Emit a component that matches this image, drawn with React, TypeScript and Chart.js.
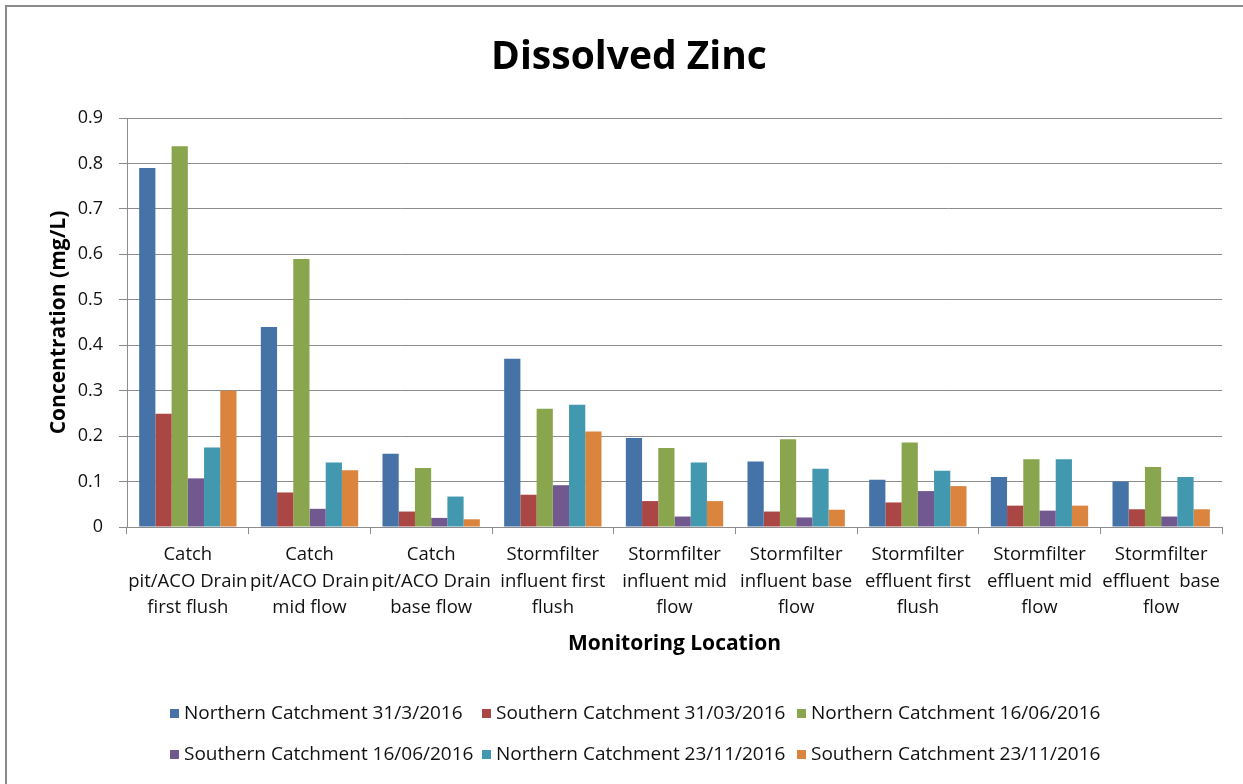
import React, { useEffect, useRef } from "react";
import { Chart, registerables } from "chart.js";

Chart.register(...registerables);

const categories: string[][] = [
  ["Catch", "pit/ACO Drain", "first flush"],
  ["Catch", "pit/ACO Drain", "mid flow"],
  ["Catch", "pit/ACO Drain", "base flow"],
  ["Stormfilter", "influent first", "flush"],
  ["Stormfilter", "influent mid", "flow"],
  ["Stormfilter", "influent base", "flow"],
  ["Stormfilter", "effluent first", "flush"],
  ["Stormfilter", "effluent mid", "flow"],
  ["Stormfilter", "effluent  base", "flow"],
];

const northern31Mar = [0.79, 0.44, 0.161, 0.37, 0.196, 0.144, 0.104, 0.11, 0.1];
const southern31Mar = [0.249, 0.076, 0.034, 0.071, 0.057, 0.034, 0.054, 0.047, 0.039];
const northern16Jun = [0.838, 0.59, 0.13, 0.26, 0.174, 0.193, 0.186, 0.149, 0.132];
const southern16Jun = [0.107, 0.04, 0.02, 0.092, 0.023, 0.021, 0.079, 0.036, 0.023];
const northern23Nov = [0.175, 0.142, 0.067, 0.269, 0.142, 0.128, 0.124, 0.149, 0.11];
const southern23Nov = [0.3, 0.125, 0.017, 0.21, 0.057, 0.038, 0.09, 0.047, 0.039];

const seriesNames = [
  "Northern Catchment 31/3/2016",
  "Southern Catchment 31/03/2016",
  "Northern Catchment 16/06/2016",
  "Southern Catchment 16/06/2016",
  "Northern Catchment 23/11/2016",
  "Southern Catchment 23/11/2016",
];
const seriesValues = [northern31Mar, southern31Mar, northern16Jun, southern16Jun, northern23Nov, southern23Nov];
const seriesColors = ["#4572A7", "#AA4643", "#89A54E", "#71588F", "#4198AF", "#DB843D"];

const FONT = "'Open Sans', 'Liberation Sans', sans-serif";
const GRID = "#8c8c8c";

const legendPlugin = {
  id: "gridLegend",
  afterDraw(chart: any) {
    const ctx = chart.ctx;
    const cols = [170, 482, 797];
    const rows = [714, 755];
    ctx.save();
    ctx.font = `19px ${FONT}`;
    ctx.textBaseline = "middle";
    ctx.textAlign = "left";
    chart.data.datasets.forEach((ds: any, i: number) => {
      const x = cols[i % 3];
      const y = rows[Math.floor(i / 3)];
      ctx.fillStyle = ds.backgroundColor;
      ctx.fillRect(x, y - 5, 9, 9);
      ctx.fillStyle = "#111";
      ctx.fillText(ds.label, x + 14, y);
    });
    ctx.restore();
  },
};

export default function App() {
  const ref = useRef<HTMLCanvasElement | null>(null);
  useEffect(() => {
    if (!ref.current) return;
    const chart = new Chart(ref.current, {
      type: "bar",
      data: {
        labels: categories,
        datasets: seriesNames.map((name, i) => ({
          label: name,
          data: seriesValues[i],
          backgroundColor: seriesColors[i],
          borderWidth: 0,
          barPercentage: 1,
          categoryPercentage: 0.8,
        })),
      },
      options: {
        animation: false,
        responsive: false,
        maintainAspectRatio: false,
        devicePixelRatio: 1,
        layout: { padding: { left: 36, right: 21, top: 0, bottom: 100 } },
        plugins: {
          legend: { display: false },
          tooltip: { enabled: false },
          title: {
            display: true,
            text: "Dissolved Zinc",
            color: "#000",
            font: { family: FONT, size: 39, weight: "bold", lineHeight: 1.2 },
            padding: { top: 34.6, bottom: 36.6 },
          },
        },
        scales: {
          x: {
            grid: { display: true, drawOnChartArea: false, drawTicks: true, tickLength: 7, color: GRID, offset: true },
            border: { display: true, color: GRID, width: 1 },
            ticks: {
              autoSkip: false,
              maxRotation: 0,
              minRotation: 0,
              padding: 8,
              color: "#111",
              font: { family: FONT, size: 18.5, lineHeight: 1.42 },
            },
            title: {
              display: true,
              text: "Monitoring Location",
              color: "#000",
              font: { family: FONT, size: 21, weight: "bold", lineHeight: 1.2 },
              padding: { top: 0, bottom: 27.4 },
            },
            afterFit(scale: any) {
              scale.height = 157;
            },
          },
          y: {
            min: 0,
            max: 0.9,
            ticks: {
              stepSize: 0.1,
              padding: 16,
              color: "#111",
              font: { family: FONT, size: 18 },
            },
            grid: { color: GRID, lineWidth: 1, tickLength: 8, drawTicks: true },
            border: { display: true, color: GRID, width: 1 },
            title: {
              display: true,
              text: "Concentration (mg/L)",
              color: "#000",
              font: { family: FONT, size: 21, weight: "bold", lineHeight: 1.2 },
              padding: { top: 10.4, bottom: 0 },
            },
            afterFit(scale: any) {
              scale.width = 91;
            },
          },
        },
      },
      plugins: [legendPlugin],
    });
    return () => chart.destroy();
  }, []);

  return (
    <div style={{ position: "fixed", left: 0, top: 0, width: 1243, height: 784, background: "#fff" }}>
      <div
        style={{
          position: "absolute",
          left: 5,
          top: 5,
          right: 0,
          bottom: 0,
          borderLeft: "2px solid #8a8a8a",
          borderTop: "2px solid #8a8a8a",
          pointerEvents: "none",
        }}
      />
      <canvas ref={ref} width={1243} height={784} style={{ position: "absolute", left: 0, top: 0 }} />
    </div>
  );
}
